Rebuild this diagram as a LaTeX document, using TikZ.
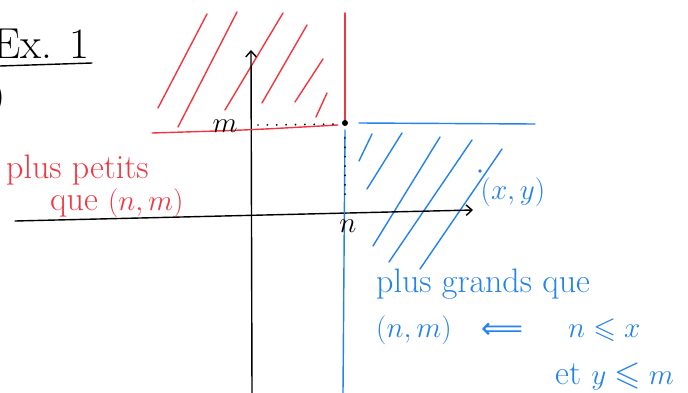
\documentclass[tikz,border=0pt]{standalone}
\usepackage{amsmath,amssymb}
\usepackage{fontspec}
\newfontfamily\arrowfont{DejaVu Sans}
\usetikzlibrary{arrows.meta}
\definecolor{penred}{RGB}{240,55,65}
\definecolor{penblue}{RGB}{35,130,235}
\tikzset{
  pen/.style={line width=1.2pt, line cap=round},
  axisarrow/.style={pen, black, -{Straight Barb[length=5pt, width=9pt]}},
  hand/.style={font=\fontsize{29}{32}\selectfont, inner sep=0pt},
  handsmall/.style={font=\fontsize{25}{28}\selectfont, inner sep=0pt},
  ticklabel/.style={font=\fontsize{24}{26}\selectfont, inner sep=0pt},
  dots/.style={line width=1.7pt, line cap=round, dash pattern=on 0pt off 8pt}
}

\begin{document}
\begin{tikzpicture}[x=.03cm, y=-.03cm]
      \useasboundingbox (0,0) rectangle (688,393);
      % title
      \node[font=\fontsize{37}{42}\selectfont, inner sep=0pt, anchor=west] (title) at (-7,44) {Ex. 1};
      \draw[pen] (0,66) -- (92,63);
      \node[hand, anchor=east] (paren) at (5,98) {)};
      % hatching of both regions
      \foreach \xa/\ya/\xb/\yb in {158/108/207/14, 178/127/237/12, 225/110/283/13,
                                   262/103/307/25, 295/102/323/59, 316/117/327/93}{
        \draw[pen, penred] (\xa,\ya) -- (\xb,\yb);
        }
      \foreach \xa/\ya/\xb/\yb in {359/161/372/134, 367/189/402/133, 373/246/440/137,
                                   389/262/472/140, 420/269/502/149}{
        \draw[pen, penblue] (\xa,\ya) -- (\xb,\yb);
        }
      \fill[penblue] (480,171) circle (1.8);
      % axes
      \draw[axisarrow] (15,221) -- (473,210);
      \draw[axisarrow] (252,393) -- (251,50);
      % borders of the regions
      \draw[pen, penred] (152,133) .. controls (250,130) .. (338,125);
      \draw[pen, penred] (345,13) -- (345,122);
      \draw[pen, penblue] (345,130) -- (343,393);
      \draw[pen, penblue] (359,123) -- (535,124);
      \draw[dots] (258,125) -- (336,124);
      \draw[dots] (345,138) -- (345,203);
      \fill (345,123) circle (3);
      \node[ticklabel] (mlab) at (225,126) {$m$};
      \node[ticklabel] (nlab) at (348,226) {$n$};
      % texts
      \node[hand, penred, anchor=west] (petits) at (6,170) {plus petits};
      \node[hand, penred, anchor=west] (quesmall) at (50,203) {que $(n,m)$};
      \node[handsmall, penblue, font=\fontsize{23}{26}\selectfont] (point) at (513,192) {$(x,y)$};
      \node[hand, penblue, anchor=west] (grands) at (376,284) {plus grands que};
      \node[handsmall, penblue, anchor=west] (quebig) at (376,330) {$(n,m)$};
      \node[handsmall, penblue, font=\fontsize{25}{28}\arrowfont] (equiv) at (502,331) {⟸};
      \node[handsmall, penblue, anchor=west] (cond1) at (568,330) {$n \leqslant x$};
      \node[hand, penblue, anchor=west] (cond2) at (555,377) {et $y \leqslant m$};
\end{tikzpicture}
\end{document}
